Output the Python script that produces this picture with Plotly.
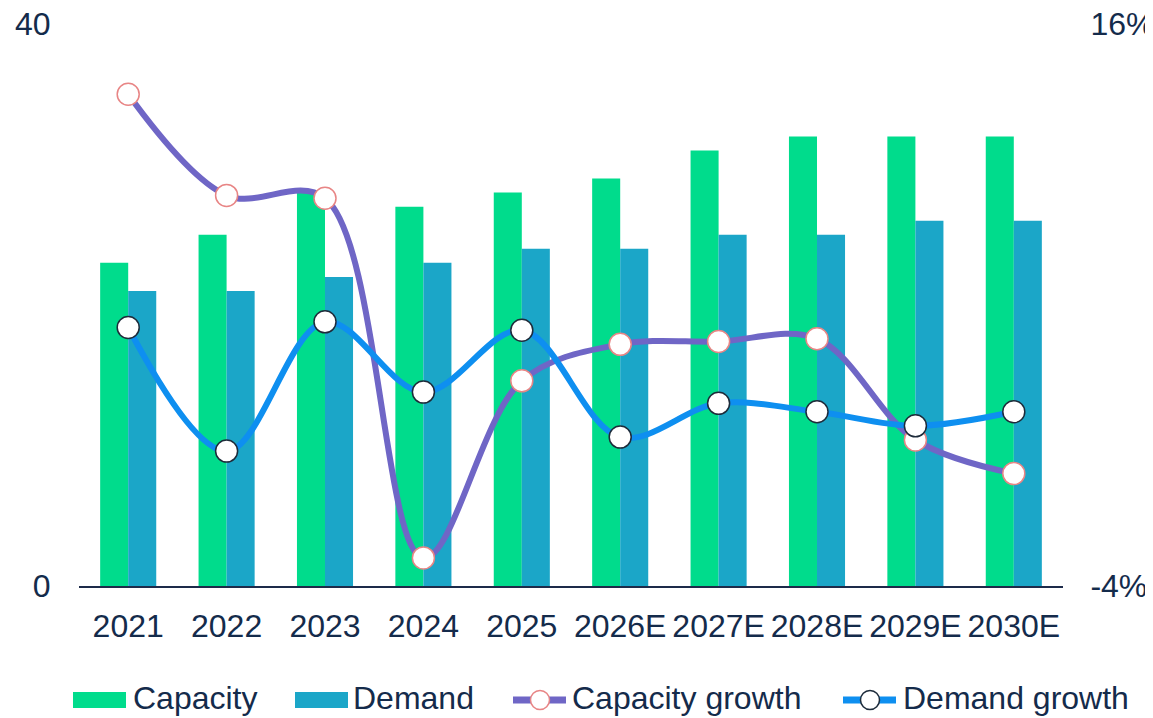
import plotly.graph_objects as go

categories = ["2021", "2022", "2023", "2024", "2025", "2026E", "2027E", "2028E", "2029E", "2030E"]
capacity = [23, 25, 28, 27, 28, 29, 31, 32, 32, 32]
demand = [21, 21, 22, 23, 24, 24, 25, 25, 26, 26]
capacity_growth = [13.5, 9.9, 9.8, -3.0, 3.3, 4.6, 4.7, 4.8, 1.2, 0.0]
demand_growth = [5.2, 0.8, 5.4, 2.9, 5.1, 1.3, 2.5, 2.2, 1.7, 2.2]

FONT = "Liberation Sans, Arial, sans-serif"
TXT = "#142b4b"
FS = 32
C_CAP = "#00dc8c"
C_DEM = "#1ba6c8"
C_CAPG = "#6f66c6"
C_DEMG = "#0e8ff0"
MK_CAPG = "#e88585"
MK_DEMG = "#1d2b3a"

# plot area in figure pixels
L, T, PW, PH = 71, 16, 984, 562
W, H = 1153, 718

fig = go.Figure()
fig.add_trace(go.Bar(x=categories, y=capacity, name="Capacity", marker_color=C_CAP, marker_line_width=0))
fig.add_trace(go.Bar(x=categories, y=demand, name="Demand", marker_color=C_DEM, marker_line_width=0))
fig.add_trace(go.Scatter(
    x=categories, y=capacity_growth, name="Capacity growth", yaxis="y2",
    mode="lines+markers", line=dict(color=C_CAPG, width=6, shape="spline", smoothing=1),
    marker=dict(size=22, color="white", line=dict(color=MK_CAPG, width=1.5))))
fig.add_trace(go.Scatter(
    x=categories, y=demand_growth, name="Demand growth", yaxis="y2",
    mode="lines+markers", line=dict(color=C_DEMG, width=6, shape="spline", smoothing=1),
    marker=dict(size=22, color="white", line=dict(color=MK_DEMG, width=1.5))))


def px(fx):
    return (fx - L) / PW


def py(fy):
    return (T + PH - fy) / PH


# custom legend (keys drawn as shapes, labels as real text)
shapes = []
annotations = []
ly = 692
legend_items = [
    ("Capacity", "bar", C_CAP, None, 65, 125),
    ("Demand", "bar", C_DEM, None, 287, 345),
    ("Capacity growth", "line", C_CAPG, MK_CAPG, 502, 564),
    ("Demand growth", "line", C_DEMG, MK_DEMG, 832, 895),
]
for name, kind, col, mk, x0, tx in legend_items:
    if kind == "bar":
        shapes.append(dict(type="rect", xref="paper", yref="paper",
                           x0=px(x0), x1=px(x0 + 53), y0=py(ly + 8), y1=py(ly - 8),
                           fillcolor=col, line=dict(width=0), layer="above"))
    else:
        shapes.append(dict(type="line", xref="paper", yref="paper",
                           x0=px(x0 + 3), x1=px(x0 + 56), y0=py(ly), y1=py(ly),
                           line=dict(color=col, width=7), layer="above"))
        cx = x0 + 30
        shapes.append(dict(type="circle", xref="paper", yref="paper",
                           x0=px(cx - 9.5), x1=px(cx + 9.5), y0=py(ly + 9.5), y1=py(ly - 9.5),
                           fillcolor="white", line=dict(color=mk, width=1.5), layer="above"))
    annotations.append(dict(text=name, xref="paper", yref="paper", x=px(tx - 2), y=py(ly - 2),
                            xanchor="left", yanchor="middle", showarrow=False,
                            font=dict(size=FS, color=TXT, family=FONT)))

fig.update_layout(
    width=W, height=H,
    margin=dict(l=L, r=W - L - PW, t=T, b=H - T - PH, autoexpand=False),
    paper_bgcolor="white", plot_bgcolor="white",
    font=dict(family=FONT, size=FS, color=TXT),
    barmode="group", bargap=0.43, bargroupgap=0,
    showlegend=False,
    shapes=shapes, annotations=annotations,
    xaxis=dict(range=[-0.5, len(categories) - 0.5],
               showline=True, linecolor="#1d2b4a", linewidth=1.5, showgrid=False,
               automargin=False, ticklabeloverflow="allow",
               ticks="outside", ticklen=11, tickcolor="rgba(0,0,0,0)",
               tickfont=dict(size=FS, color=TXT)),
    yaxis=dict(range=[0, 40], tickvals=[0, 40], showgrid=False, zeroline=False,
               automargin=False, ticklabeloverflow="allow",
               ticks="outside", ticklen=21, tickcolor="rgba(0,0,0,0)",
               tickfont=dict(size=FS, color=TXT)),
    yaxis2=dict(range=[-4, 16], tickvals=[-4, 16], ticktext=["-4%", "16%"],
                overlaying="y", side="right", showgrid=False, zeroline=False,
                automargin=False, ticklabeloverflow="allow",
                ticks="outside", ticklen=20, tickcolor="rgba(0,0,0,0)",
                tickfont=dict(size=FS, color=TXT)),
)

fig.write_html("out.html")
